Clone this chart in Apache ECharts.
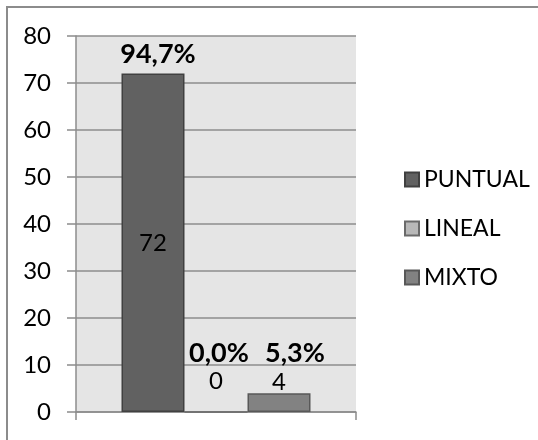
<!DOCTYPE html>
<html>
<head>
<meta charset="utf-8">
<script src="https://cdn.jsdelivr.net/npm/echarts@6/dist/echarts.min.js"></script>
<style>
html,body{margin:0;padding:0;background:#fff;}
#chart{width:538px;height:440px;}
</style>
</head>
<body>
<div id="chart"></div>
<script>
var categories = [''];
var seriesNames = ['PUNTUAL', 'LINEAL', 'MIXTO'];
var puntual = [72];
var lineal = [0];
var mixto = [4];
var yTicks = [0, 10, 20, 30, 40, 50, 60, 70, 80];

var allValues = [puntual, lineal, mixto];
var total = puntual[0] + lineal[0] + mixto[0];
function pct(v) { return (v / total * 100).toFixed(1).replace('.', ',') + '%'; }

var fills = ['#616161', '#b8b8b8', '#828282'];
var borders = ['#404040', '#6a6a6a', '#585858'];
var innerLabel = [
  {position: 'inside', distance: 0},
  {position: 'top', distance: 18},
  {position: 'top', distance: -1}
];
var pctOffsets = [[5, -19], [3, -59], [16, -40]];

var FONT = 'Lato';
var chart = echarts.init(document.getElementById('chart'), null, {renderer: 'canvas'});

var series = seriesNames.map(function (name, i) {
  return {
    name: name,
    type: 'bar',
    data: allValues[i],
    barGap: '0%',
    barCategoryGap: '32.5%',
    itemStyle: {color: fills[i], borderColor: borders[i], borderWidth: 1.5},
    label: {
      show: true,
      position: innerLabel[i].position,
      distance: innerLabel[i].distance,
      color: '#000',
      fontFamily: FONT,
      fontSize: 24,
      formatter: function (p) { return String(p.value); }
    },
    emphasis: {disabled: true},
    markPoint: {
      symbol: 'circle',
      symbolSize: 1,
      itemStyle: {color: 'rgba(0,0,0,0)'},
      label: {
        show: true,
        position: 'inside',
        offset: pctOffsets[i],
        color: '#000',
        fontFamily: FONT,
        fontWeight: 'bold',
        fontSize: 27,
        formatter: function () { return pct(allValues[i][0]); }
      },
      data: [{coord: [categories[0], allValues[i][0]]}]
    }
  };
});

chart.setOption({
  animation: false,
  backgroundColor: '#fff',
  graphic: [{
    type: 'rect',
    shape: {x: 7, y: 7, width: 700, height: 700},
    style: {fill: 'none', stroke: '#8c8c8c', lineWidth: 2},
    silent: true
  }],
  grid: {
    left: 76, top: 36, width: 280, height: 376,
    show: true, backgroundColor: '#e5e5e5', borderWidth: 0
  },
  legend: {
    orient: 'vertical',
    left: 399, top: 163,
    itemWidth: 14, itemHeight: 14, itemGap: 26,
    icon: 'rect',
    data: seriesNames,
    textStyle: {fontFamily: FONT, fontSize: 23, color: '#000', lineHeight: 22}
  },
  xAxis: {
    type: 'category',
    data: categories,
    axisLine: {show: true, lineStyle: {color: '#8c8c8c', width: 1.5}},
    axisTick: {show: true, length: 8, lineStyle: {color: '#8c8c8c', width: 1.5}},
    axisLabel: {show: false},
    splitLine: {show: false}
  },
  yAxis: {
    type: 'value',
    min: yTicks[0],
    max: yTicks[yTicks.length - 1],
    interval: yTicks[1] - yTicks[0],
    axisLine: {show: true, lineStyle: {color: '#8c8c8c', width: 1.5}},
    axisTick: {show: true, length: 9, lineStyle: {color: '#8c8c8c', width: 1.5}},
    axisLabel: {margin: 25, color: '#000', fontFamily: FONT, fontSize: 24},
    splitLine: {show: true, lineStyle: {color: '#8c8c8c', width: 1.5}}
  },
  series: series
});
</script>
</body>
</html>
